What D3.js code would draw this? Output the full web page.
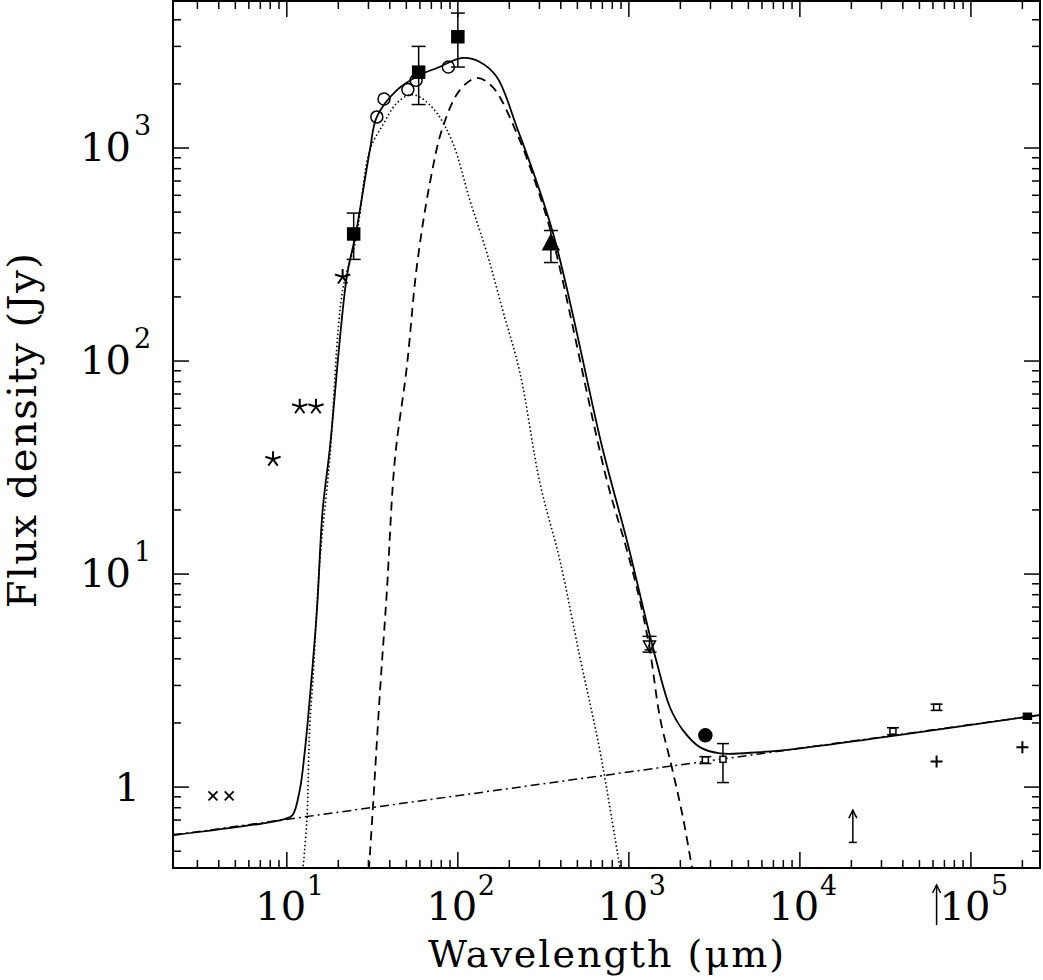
<!DOCTYPE html>
<html><head><meta charset="utf-8">
<script src="https://cdn.jsdelivr.net/npm/d3@7"></script>
<style>body{margin:0;background:#fff}svg text{font-family:"DejaVu Serif","Liberation Serif",serif;fill:#000}</style>
</head><body><svg id="c" width="1043" height="980"></svg>
<script>
// ---- data ----
const xDomain=[2.16,253500], yDomain=[0.417,4900];
const xTickExps=[1,2,3,4,5];
const yTickLabels=[{v:1,e:null},{v:10,e:1},{v:100,e:2},{v:1000,e:3}];
const crossesX=[[3.7,0.91],[4.6,0.91]];
const asterisks=[[8.3,34.6],[11.9,61],[14.8,61],[21.2,248]];
const filledSquares=[[24.6,395,300,495],[59,2270,1600,3000],[100,3330,2400,4300]];
const openCircles=[[33.6,1400],[37,1700],[51,1880],[57,2080],[88,2400]];
const triangleUp=[[350,355,290,410]];
const triangleDown=[[1320,4.6,4.3,5.1]];
const filledCircle=[[2800,1.75]];
const smallSquares=[[2800,1.34,1.29,1.39],[3550,1.35,1.05,1.6],[35000,1.83,1.76,1.9],[63000,2.37,2.29,2.45]];
const smallFilled=[[214000,2.15]];
const plusPts=[[63000,1.32],[200000,1.54]];
const arrows=[[20400,0.55,0.78,true],[63000,0.225,0.347,false]];
const warmL=[12.4,13.1,13.6,14.2,15.6,17.8,21.2,25.3,30.6,36.4,44.0,52.4,59.9,75.4,93.5,117.5,148,183,231,302,395,517,676,885];
const warmF=[0.408,0.70,1.91,3.18,11.6,34.3,215,370,979,1283,1626,1774,1735,1459,1055,570,321,173,87.8,26.7,11.6,4.08,1.49,0.421];
const coldL=[30.2,31.8,35.0,38.4,42.8,50.3,57.5,68.6,81.7,102.8,129,160,221,290,360,743,973,1158,1327,1518,1783,2069,2336];
const coldF=[0.408,0.78,2.76,8.15,34.3,93.7,276,685,1256,1871,2133,1932,1175,656,370,27.6,13.0,7.55,4.40,2.13,1.24,0.723,0.421];
const totL=[2.16,9.7,10.8,11.9,12.7,13.6,15.0,16.2,17.8,22.4,25.3,30.6,33.6,44.0,59.9,75.4,107,134.5,169,221,360,705,973,1273,1459,1738,2069,2600,3404,5834,10000,253500];
const totF=[0.595,0.708,0.739,0.968,1.44,2.56,6.78,20.0,38.2,248,395,979,1400,1871,2202,2376,2648,2535,2155,1256,399,38.2,14.4,5.89,3.82,2.37,1.85,1.54,1.44,1.46,1.52,2.18];
const plawL=[2.16,253500], plawF=[0.595,2.18];

// ---- layout ----
const L=173,R=1040,T=1,B=868;
const svg=d3.select("#c");
const x=d3.scaleLog().domain(xDomain).range([L,R]);
const y=d3.scaleLog().domain(yDomain).range([B,T]);
svg.append("defs").append("clipPath").attr("id","clip").append("rect").attr("x",L).attr("y",T).attr("width",R-L).attr("height",B-T);
const g=svg.append("g").attr("clip-path","url(#clip)");
const line=d3.line().x(d=>x(d[0])).y(d=>y(d[1])).curve(d3.curveCatmullRom.alpha(0.5));
const zip=(a,b)=>a.map((v,i)=>[v,b[i]]);
function curve(a,b,dash,w){g.append("path").attr("d",line(zip(a,b))).attr("fill","none").attr("stroke","#000").attr("stroke-width",w).attr("stroke-dasharray",dash).attr("stroke-linejoin","round");}
curve(plawL,plawF,"9,4,2,4",1.5);
curve(warmL,warmF,"1.5,2.5",1.6);
curve(coldL,coldF,"9,6",1.8);
curve(totL,totF,null,1.8);

// frame
svg.append("rect").attr("x",L).attr("y",T).attr("width",R-L).attr("height",B-T).attr("fill","none").attr("stroke","#000").attr("stroke-width",2);
// ticks
const ax=svg.append("g").attr("stroke","#000").attr("stroke-width",1.5);
for(let e=0;e<=5;e++)for(let m=1;m<=9;m++){const v=m*Math.pow(10,e);if(v<xDomain[0]||v>xDomain[1])continue;const px=x(v),len=m==1?16:8;
 ax.append("line").attr("x1",px).attr("x2",px).attr("y1",B).attr("y2",B-len);
 ax.append("line").attr("x1",px).attr("x2",px).attr("y1",T).attr("y2",T+len);}
for(let e=-1;e<=3;e++)for(let m=1;m<=9;m++){const v=m*Math.pow(10,e);if(v<yDomain[0]||v>yDomain[1])continue;const py=y(v),len=m==1?16:8;
 ax.append("line").attr("y1",py).attr("y2",py).attr("x1",L).attr("x2",L+len);
 ax.append("line").attr("y1",py).attr("y2",py).attr("x1",R).attr("x2",R-len);}
// tick labels
xTickExps.forEach(e=>{const px=x(Math.pow(10,e));
 svg.append("text").attr("x",px-6).attr("y",920).attr("text-anchor","middle").attr("font-size",40).text("10");
 svg.append("text").attr("x",px+20).attr("y",895).attr("font-size",27).text(e);});
yTickLabels.forEach(t=>{const py=y(t.v);
 if(t.e===null){svg.append("text").attr("x",140).attr("y",py+14).attr("text-anchor","end").attr("font-size",40).text("1");return;}
 svg.append("text").attr("x",131).attr("y",py+13).attr("text-anchor","end").attr("font-size",40).text("10");
 svg.append("text").attr("x",134).attr("y",py-13).attr("font-size",27).text(t.e);});
svg.append("text").attr("x",607).attr("y",967).attr("text-anchor","middle").attr("font-size",38).attr("letter-spacing",2).text("Wavelength (μm)");
svg.append("text").attr("transform","translate(36,430) rotate(-90)").attr("text-anchor","middle").attr("font-size",40).attr("letter-spacing",1.5).text("Flux density (Jy)");

// markers
const m=svg.append("g").attr("stroke","#000").attr("stroke-width",1.5);
function ebar(px,lo,hi,w){const a=y(lo),b=y(hi);m.append("line").attr("x1",px).attr("x2",px).attr("y1",a).attr("y2",b);
 m.append("line").attr("x1",px-w).attr("x2",px+w).attr("y1",a).attr("y2",a);m.append("line").attr("x1",px-w).attr("x2",px+w).attr("y1",b).attr("y2",b);}
crossesX.forEach(d=>{const px=x(d[0]),py=y(d[1]),s=4.5;m.append("path").attr("d",`M${px-s},${py-s}L${px+s},${py+s}M${px-s},${py+s}L${px+s},${py-s}`).attr("stroke-width",1.8);});
asterisks.forEach(d=>{const px=x(d[0]),py=y(d[1]),r=8;let p="";for(let k=0;k<5;k++){const a=-Math.PI/2+k*2*Math.PI/5;p+=`M${px},${py}L${px+r*Math.cos(a)},${py+r*Math.sin(a)}`;}m.append("path").attr("d",p).attr("stroke-width",2);});
filledSquares.forEach(d=>{const px=x(d[0]),py=y(d[1]);ebar(px,d[2],d[3],7);m.append("rect").attr("x",px-6).attr("y",py-6).attr("width",12).attr("height",12).attr("fill","#000");});
openCircles.forEach(d=>{m.append("circle").attr("cx",x(d[0])).attr("cy",y(d[1])).attr("r",6).attr("fill","none");});
triangleUp.forEach(d=>{const px=x(d[0]),py=y(d[1]);ebar(px,d[2],d[3],7);m.append("path").attr("d",`M${px},${py-9}L${px+8},${py+6}L${px-8},${py+6}Z`).attr("fill","#000");});
triangleDown.forEach(d=>{const px=x(d[0]),py=y(d[1]);ebar(px,d[2],d[3],7);m.append("path").attr("d",`M${px-6},${py-5}L${px+6},${py-5}L${px},${py+6}Z`).attr("fill","none");m.append("line").attr("x1",px-5).attr("x2",px+5).attr("y1",py+4).attr("y2",py+4);});
filledCircle.forEach(d=>{m.append("circle").attr("cx",x(d[0])).attr("cy",y(d[1])).attr("r",6.5).attr("fill","#000");});
smallSquares.forEach(d=>{const px=x(d[0]),py=y(d[1]);ebar(px,d[2],d[3],6);m.append("rect").attr("x",px-3).attr("y",py-3).attr("width",6).attr("height",6).attr("fill","#fff");});
smallFilled.forEach(d=>{const px=x(d[0]),py=y(d[1]);m.append("rect").attr("x",px-4).attr("y",py-3).attr("width",8).attr("height",6).attr("fill","#000");});
plusPts.forEach(d=>{const px=x(d[0]),py=y(d[1]),s=6;m.append("path").attr("d",`M${px-s},${py}L${px+s},${py}M${px},${py-s}L${px},${py+s}`).attr("stroke-width",2);});
arrows.forEach(d=>{const px=x(d[0]),bot=y(d[1]),top=y(d[2]);
 m.append("line").attr("x1",px).attr("x2",px).attr("y1",bot).attr("y2",top);
 m.append("path").attr("d",`M${px-4},${top+8}L${px},${top}L${px+4},${top+8}`).attr("fill","none");
 if(d[3]) m.append("line").attr("x1",px-4).attr("x2",px+4).attr("y1",bot).attr("y2",bot);});
</script></body></html>
